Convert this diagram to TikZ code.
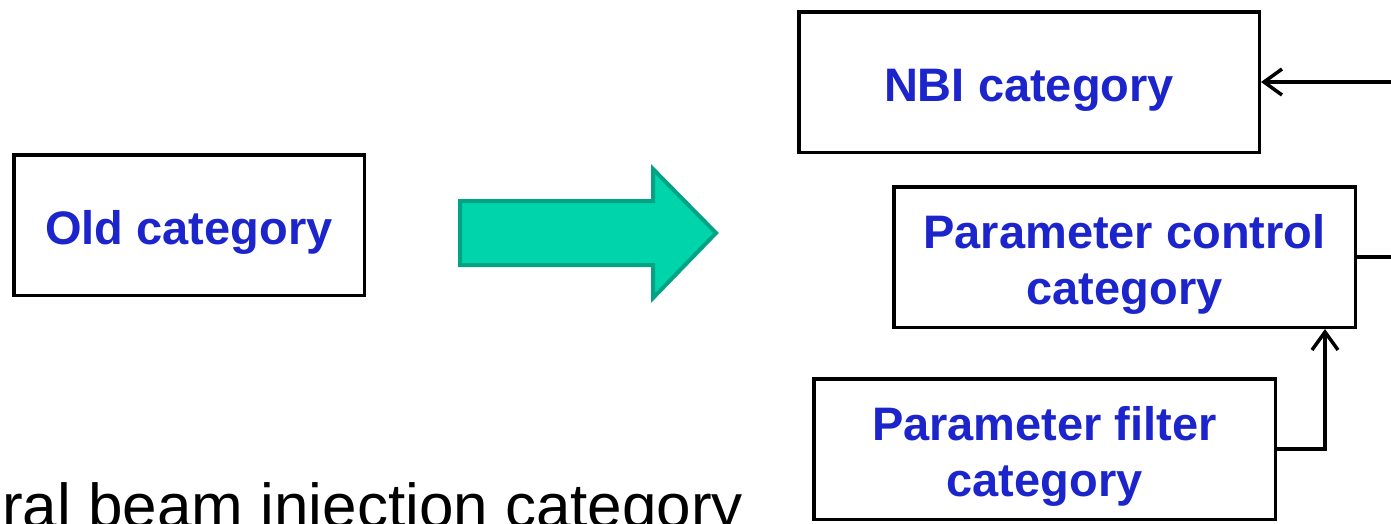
\documentclass[tikz,border=0pt]{standalone}
\usepackage{fontspec}
\setmainfont{Liberation Sans}
\usetikzlibrary{arrows.meta}
\definecolor{txtblue}{RGB}{28,36,204}
\definecolor{arrfill}{RGB}{0,212,170}
\definecolor{arredge}{RGB}{0,163,131}
\newcommand\tstrut{\rule{0pt}{48.5pt}}
\tikzset{
  catbox/.style={draw=black, line width=3.5pt, inner sep=0pt, minimum height=140.5pt,
    text=txtblue, align=center, font=\bfseries\fontsize{47}{56}\selectfont},
  conn/.style={draw=black, line width=3.5pt},
  tipd/.style={-{Straight Barb[length=18pt,width=26pt,line width=3.5pt]}}
}
\begin{document}
\begin{tikzpicture}[x=1pt,y=-1pt]
\path[use as bounding box, clip] (0,0) rectangle (1391,523);
\fill[white] (0,0) rectangle (1391,523);

\node[catbox, minimum width=350.5pt] (old) at (189,225) {\tstrut Old category};
\node[catbox, minimum width=460.5pt] (nbi) at (1029,82) {\tstrut NBI category};
\node[catbox, minimum width=461.5pt] (pc) at (1124.5,257) {\tstrut Parameter control\\category};
\node[catbox, minimum width=461.5pt] (pf) at (1044.5,449) {\tstrut Parameter filter\\category};

% big transition arrow
\filldraw[fill=arrfill, draw=arredge, line width=4pt, line join=miter]
  (460,201) -- (653,201) -- (653,169) -- (716,233) -- (653,298) -- (653,265) -- (460,265) -- cycle;

% connectors
\coordinate (nbiin) at (1400,82);
\coordinate (pcout) at (1400,257);
\coordinate (pcin) at (1325,0);
\draw[conn, tipd] (nbiin) -- (nbi.east);
\draw[conn] (pc.east) -- (pcout);
\draw[conn, tipd] (pf.east) -| (pcin |- pc.south);

\node[anchor=base west, inner sep=0pt, font=\fontsize{62}{74}\selectfont] (cap) at (2,527)
  {ral beam injection category};
\end{tikzpicture}
\end{document}
